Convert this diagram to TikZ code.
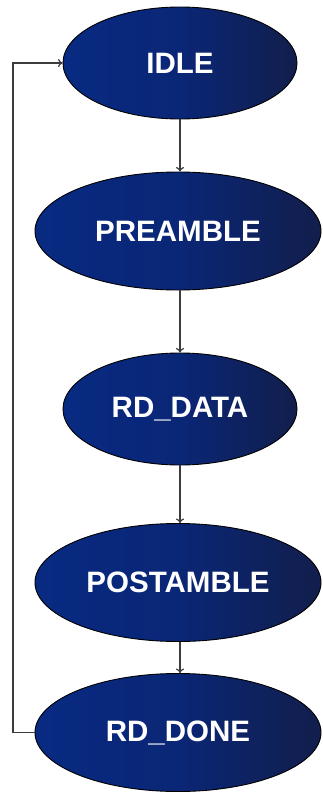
\documentclass[tikz,border=0pt]{standalone}
\usepackage{fontspec}
\setmainfont{Liberation Sans}
\usetikzlibrary{shapes.geometric,arrows.meta}
\definecolor{stateL}{RGB}{8,42,130}
\definecolor{stateM}{RGB}{10,38,118}
\definecolor{stateR}{RGB}{18,30,76}
\definecolor{wire}{RGB}{60,60,60}
\tikzset{
  state/.style={ellipse, draw=black, line width=0.9pt, inner sep=0pt,
    left color=stateL, right color=stateR, middle color=stateM,
    text=white, font=\fontsize{29.5}{29.5}\selectfont\bfseries},
  small/.style={state, minimum width=234pt, minimum height=112pt},
  big/.style={state, minimum width=286pt, minimum height=118pt},
  flow/.style={draw=wire, line width=1.2pt, -{To[length=4.5pt,width=8pt]}},
}
\begin{document}
\begin{tikzpicture}[x=1pt,y=-1pt]
  \useasboundingbox (0,0) rectangle (322,795);
  \node[small] (idle)  at (180,63)    {IDLE};
  \node[big]   (pre)   at (178,231)   {PREAMBLE};
  \node[small] (data)  at (180,409)   {RD\_DATA};
  \node[big]   (post)  at (178,582.5) {POSTAMBLE};
  \node[big]   (done)  at (178,732.5) {RD\_DONE};
  \coordinate (back) at (13,732.5);
  \draw[flow] (idle.south -| 180,0) -- (pre.north -| 180,0);
  \draw[flow] (pre.south -| 180,0) -- (data.north -| 180,0);
  \draw[flow] (data.south -| 180,0) -- (post.north -| 180,0);
  \draw[flow] (post.south -| 180,0) -- (done.north -| 180,0);
  \draw[flow] (done.west) -- (back) |- (idle.west);
\end{tikzpicture}
\end{document}
